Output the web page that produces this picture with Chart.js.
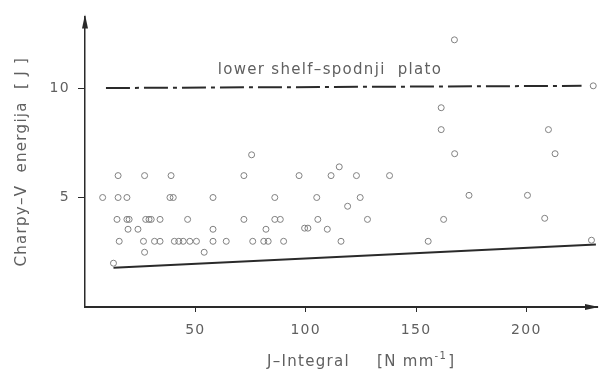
<!DOCTYPE html>
<html><head><meta charset="utf-8">
<script src="https://cdn.jsdelivr.net/npm/chart.js@4/dist/chart.umd.min.js"></script>
<style>html,body{margin:0;padding:0;background:#fff}#wrap{width:601px;height:376px}</style>
</head><body><div id="wrap"><canvas id="c" width="601" height="376"></canvas></div>
<script>
// ---- data ----
const jIntegral = [
  12.9,
  27, 54,
  15.5, 26.5, 31.5, 34, 40.5, 42.5, 44.5, 47.5, 50.5, 58, 64, 76, 81, 83, 90, 116, 155.5, 229.5,
  19.5, 24, 58, 82, 99.5, 101, 109.8,
  14.5, 19, 20, 27.5, 29, 30, 34, 46.5, 72, 86, 88.5, 105.5, 128, 162.5, 208.3,
  119,
  8, 15, 19, 38.5, 40, 58, 86, 105, 124.7, 174, 200.5,
  15, 27, 39, 72, 97, 111.5, 123, 138,
  115.2,
  75.5, 167.5, 213,
  161.4, 210,
  161.4,
  230.3,
  167.4
];
const charpyEnergy = [
  2,
  2.5, 2.5,
  3, 3, 3, 3, 3, 3, 3, 3, 3, 3, 3, 3, 3, 3, 3, 3, 3, 3.05,
  3.55, 3.55, 3.55, 3.55, 3.6, 3.6, 3.55,
  4, 4, 4, 4, 4, 4, 4, 4, 4, 4, 4, 4, 4, 4, 4.05,
  4.6,
  5, 5, 5, 5, 5, 5, 5, 5, 5, 5.1, 5.1,
  6, 6, 6, 6, 6, 6, 6, 6,
  6.4,
  6.95, 7, 7,
  8.1, 8.1,
  9.1,
  10.1,
  12.2
];
const shelfJ = [9.5, 225];
const shelfE = [10, 10.1];
const trendJ = [12.9, 231.5];
const trendE = [1.79, 2.85];
const xTickValues = [50, 100, 150, 200];
const yTickValues = [5, 10];
const xRange = [0, 232];
const yRange = [0, 13.27];
const shelfLabel = 'lower shelf\u2013spodnji  plato';
const shelfLabelPos = [111, 10.8];
const yTitle = 'Charpy\u2013V  energija  [ J ]';
const xTitleMain = 'J\u2013Integral';
const xTitleUnit = '[N mm';
const xTitleSup = '-1';

const FONT = "'DejaVu Sans', sans-serif";
const TXT = '#606060';
const INK = '#2a2a2a';

const spacing = {
  id: 'spacing',
  beforeDraw(chart) { chart.ctx.letterSpacing = '1.3px'; }
};

const overlay = {
  id: 'overlay',
  afterDraw(chart) {
    const ctx = chart.ctx;
    const xs = chart.scales.x, ys = chart.scales.y;
    const x0 = xs.getPixelForValue(xRange[0]);
    const y0 = ys.getPixelForValue(yRange[0]);
    const xe = xs.getPixelForValue(xRange[1]);
    const ye = ys.getPixelForValue(yRange[1]);
    ctx.save();
    ctx.letterSpacing = '1.3px';
    ctx.fillStyle = INK;
    // x arrow
    ctx.beginPath();
    ctx.moveTo(xe + 2, y0);
    ctx.lineTo(xe - 12, y0 - 3);
    ctx.lineTo(xe - 12, y0 + 3);
    ctx.closePath(); ctx.fill();
    // y arrow
    ctx.beginPath();
    ctx.moveTo(x0, ye - 2);
    ctx.lineTo(x0 - 3, ye + 12);
    ctx.lineTo(x0 + 3, ye + 12);
    ctx.closePath(); ctx.fill();
    // shelf label
    ctx.fillStyle = TXT;
    ctx.font = '15px ' + FONT;
    ctx.textAlign = 'center';
    ctx.textBaseline = 'middle';
    ctx.fillText(shelfLabel, xs.getPixelForValue(shelfLabelPos[0]), ys.getPixelForValue(shelfLabelPos[1]));
    // x title
    const cy = 362;
    ctx.textAlign = 'left';
    ctx.font = '15px ' + FONT;
    let x = 267;
    ctx.fillText(xTitleMain, x, cy);
    x = 377;
    ctx.fillText(xTitleUnit, x, cy);
    x += ctx.measureText(xTitleUnit).width;
    ctx.font = '10px ' + FONT;
    ctx.fillText(xTitleSup, x, cy - 6);
    x += ctx.measureText(xTitleSup).width + 1;
    ctx.font = '15px ' + FONT;
    ctx.fillText(']', x, cy);
    ctx.restore();
  }
};

new Chart(document.getElementById('c'), {
  data: {
    datasets: [
      {
        type: 'scatter',
        data: jIntegral.map((v, i) => ({x: v, y: charpyEnergy[i]})),
        pointStyle: 'circle',
        pointRadius: 3,
        borderColor: '#808080',
        backgroundColor: 'rgba(0,0,0,0)',
        borderWidth: 1,
        pointHoverRadius: 3
      },
      {
        type: 'line',
        data: shelfJ.map((v, i) => ({x: v, y: shelfE[i]})),
        borderColor: INK,
        borderWidth: 2,
        borderDash: [24, 5, 4, 5],
        pointRadius: 0,
        fill: false
      },
      {
        type: 'line',
        data: trendJ.map((v, i) => ({x: v, y: trendE[i]})),
        borderColor: INK,
        borderWidth: 2,
        pointRadius: 0,
        fill: false
      }
    ]
  },
  options: {
    responsive: false,
    devicePixelRatio: 1,
    animation: false,
    layout: {padding: {top: 15, right: 4, left: 0, bottom: 0}},
    plugins: {legend: {display: false}, tooltip: {enabled: false}},
    scales: {
      x: {
        type: 'linear',
        min: xRange[0], max: xRange[1],
        afterBuildTicks: s => { s.ticks = xTickValues.map(v => ({value: v})); },
        afterFit: s => { s.height = 69; },
        grid: {display: true, drawOnChartArea: false, drawTicks: true, tickLength: 5, color: INK},
        border: {display: true, color: INK, width: 2},
        ticks: {color: TXT, font: {family: FONT, size: 14}, padding: 10, maxRotation: 0}
      },
      y: {
        type: 'linear',
        min: yRange[0], max: yRange[1],
        afterBuildTicks: s => { s.ticks = yTickValues.map(v => ({value: v})); },
        afterFit: s => { s.width = 85; },
        grid: {display: true, drawOnChartArea: false, drawTicks: true, tickLength: 7, color: INK},
        border: {display: true, color: INK, width: 1.5},
        ticks: {color: TXT, font: {family: FONT, size: 14}, padding: 8},
        title: {display: true, text: yTitle, color: TXT, font: {family: FONT, size: 15}, padding: {top: 13, bottom: 0}}
      }
    }
  },
  plugins: [spacing, overlay]
});
</script>
</body></html>
